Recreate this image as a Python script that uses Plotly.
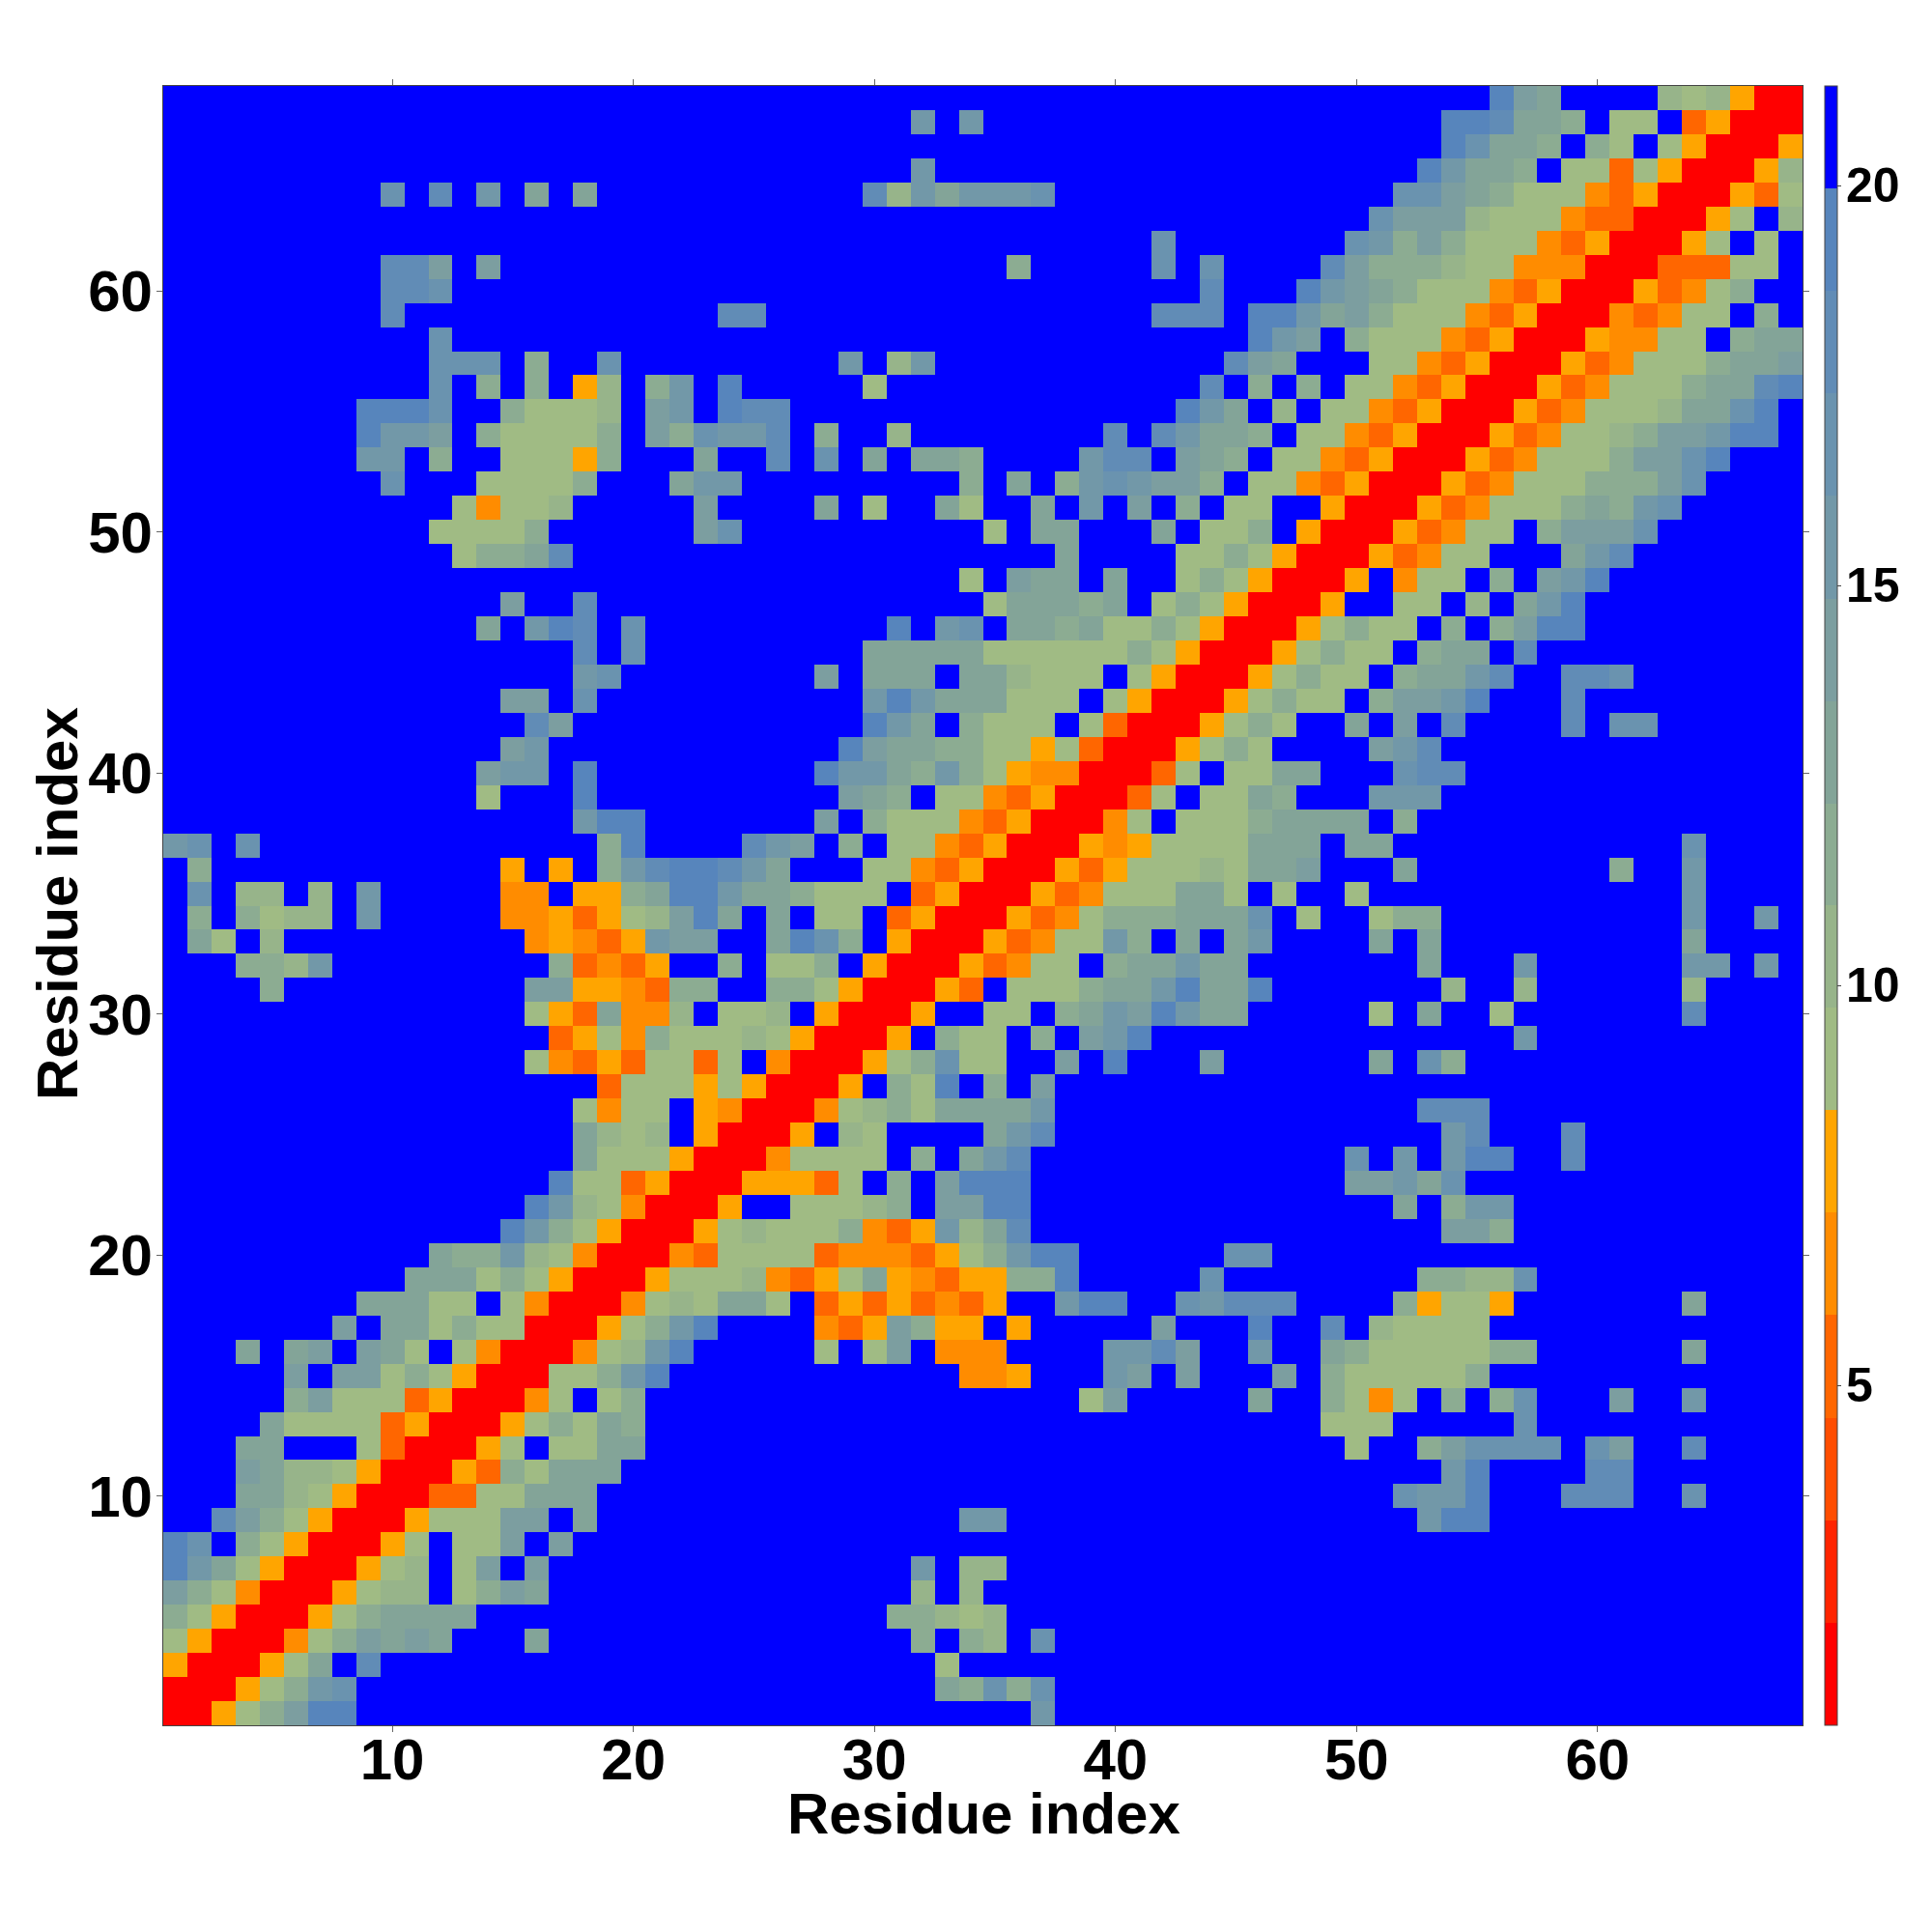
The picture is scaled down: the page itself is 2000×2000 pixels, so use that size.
import plotly.graph_objects as go

N_RESIDUES = 68
AXIS_TICKS = [10, 20, 30, 40, 50, 60]
BAR_TICKS = [5, 10, 15, 20]
AXIS_TITLE = "Residue index"

# Distance value read for each colour code in the picture
CODE_VALUE = {"1": 1.39, "4": 5.23, "5": 6.52, "6": 7.80, "7": 9.08, "8": 10.36, "9": 11.64,
              "A": 12.92, "B": 14.20, "C": 15.48, "D": 16.77, "E": 18.05, "F": 19.33, ".": 20.61}

# Colour band edges (values) and their colours
BAND_EDGES = [0.75, 2.03, 3.31, 4.59, 5.88, 7.16, 8.44, 9.72, 11.0, 12.28, 13.56, 14.84,
              16.13, 17.41, 18.69, 19.97, 21.25]
BAND_COLOURS = ["#ff0000", "#ff2400", "#ff4d00", "#ff6600", "#ff8c00", "#ffa500", "#a0bb84", "#97b48a",
                "#8cac92", "#83a498", "#7c9ea0", "#7298a8", "#6a93af", "#618cb6", "#5785bc", "#0000ff"]

# Upper triangle (x >= y): "start column:codes" runs for each residue row; everything else is blue
ROW_RUNS = {
    1: "1:11679BFF 37:C",
    2: "2:11679CD 33:A9D9D",
    3: "3:1167A.E 33:7",
    4: "4:11579BABA 16:A 32:9.98 37:D",
    5: "5:11679AAAA 31:99878",
    6: "6:116788.79BA 32:8.8",
    7: "7:11678.7B.B 32:C.88",
    8: "8:1167.77B.B",
    9: "9:116777BB.A 34:CC 53:CFF",
    10: "10:114477AAA 52:DCCF 59:EEE 64:D",
    11: "11:116497AAA 54:CF 60:EE",
    12: "12:1167.77AA 50:7 53:9BDDDD 60:DB 64:E",
    13: "13:116797A9 49:777 57:D",
    14: "14:1157.79 39:7B 46:A 49:9757.9.9D 61:B 64:C",
    15: "15:11779CF 34:556 40:CB.B 47:B.9777779",
    16: "16:11578CF 28:7.7B.555 40:CCEB 46:C 49:A97777799 64:A",
    17: "17:11679CF 28:546B966.6 42:B 46:F 49:E 51:87777",
    18: "18:115787AA7.46464546..CFF 43:DCEEE 52:96776 64:A",
    19: "19:11677785467A6546699F 44:D 53:9988D",
    20: "20:1154777745554679CFF 45:DD",
    21: "21:116787779546C8AE 54:BB9",
    22: "22:116..77789.BBFF 52:A.9CC",
    23: "23:1166647.9.BFFF 50:BBCAD",
    24: "24:1157777.9.ACE 50:D.C.CFF 59:E",
    25: "25:116.87....ACE 54:CE 59:E",
    26: "26:1157897AAAAC 53:EEE",
    27: "27:116.97F.9.B",
    28: "28:11679D77..B.F 44:B 51:A.D9",
    29: "29:116.977.9.BCF 57:C",
    30: "30:116..77.9ACBFCAA 51:7.A 56:7 64:E",
    31: "31:1164.7779AACFAAF 54:8 57:8 64:8",
    32: "32:1164577.9AACAA 53:A 57:C 64:CC 67:C",
    33: "33:1164577C9.A.AC 51:A.A 64:A",
    34: "34:116457999AAAD 48:7 51:799 64:C 67:C",
    35: "35:11645777AA7.7 50:7 64:C",
    36: "36:1164677787AAB 52:A 61:9 64:C",
    37: "37:116567777AAA.AA 64:D",
    38: "38:1157.7779AAAA.9",
    39: "39:1147.77A9...CCC",
    40: "40:1147.77AA...DEE",
    41: "41:116797....BCE",
    42: "42:116797..A.B.E 59:E 61:DD",
    43: "43:1167977.9BBCF 59:E",
    44: "44:1167977.9AACE 59:EED",
    45: "45:1167977.9AA.E",
    46: "46:1167977.9.9BFF",
    47: "47:116..77.8.ACF",
    48: "48:116.577.9.BCF",
    49: "49:1164577...ACE",
    50: "50:1164577.9BBBD",
    51: "51:116457779A9CD",
    52: "52:11645777999BD",
    53: "53:116457779BBDF",
    54: "54:116457789BBCFF",
    55: "55:116457778AADF",
    56: "56:116457779AAEF",
    57: "57:116457779AAB",
    58: "58:1165577.9AA",
    59: "59:1154577.9.",
    60: "60:1164579",
    61: "61:1144477",
    62: "62:1167.7",
    63: "63:1167.8",
    64: "64:11647",
    65: "65:1168",
    66: "66:116",
    67: "67:11",
    68: "68:1",
}

residues = list(range(1, N_RESIDUES + 1))
z = [[CODE_VALUE["."]] * N_RESIDUES for _ in residues]
for row, runs in ROW_RUNS.items():
    for run in runs.split():
        start, codes = run.split(":")
        for offset, code in enumerate(codes):
            col = int(start) + offset
            z[row - 1][col - 1] = CODE_VALUE[code]
            z[col - 1][row - 1] = CODE_VALUE[code]

zmin, zmax = BAND_EDGES[0], BAND_EDGES[-1]
colorscale = []
for i, colour in enumerate(BAND_COLOURS):
    colorscale.append([(BAND_EDGES[i] - zmin) / (zmax - zmin), colour])
    colorscale.append([(BAND_EDGES[i + 1] - zmin) / (zmax - zmin), colour])

FONT = "Liberation Sans"
# The page has an 8 px body margin, so figure coordinates are page coordinates minus 8.
BOTTOM = 222 / 2000
HEIGHT = 1697 / 2000
fig = go.Figure(go.Heatmap(
    x=residues, y=residues, z=z, zmin=zmin, zmax=zmax, colorscale=colorscale,
    colorbar=dict(
        x=1881 / 2000, xanchor="left", xref="paper", y=BOTTOM, yanchor="bottom", yref="paper",
        len=HEIGHT, lenmode="fraction", thickness=13, thicknessmode="pixels",
        xpad=0, ypad=0, outlinewidth=1, outlinecolor="#444444",
        tickmode="array", tickvals=BAR_TICKS, ticks="outside", ticklen=4, tickwidth=1,
        tickcolor="#444444", showticklabels=False,
    ),
))
axis = dict(
    range=[0.5, 68.5], tickmode="array", tickvals=AXIS_TICKS, ticks="outside", ticklen=6, tickwidth=1,
    tickcolor="#666666", showline=True, linecolor="#444444", linewidth=1, mirror="ticks",
    showgrid=False, zeroline=False, tickangle=0,
    tickfont=dict(family=FONT, size=60, color="black", weight="bold"),
)
annotations = [
    dict(text=f"<b>{AXIS_TITLE}</b>", xref="paper", yref="paper", x=1010 / 2000, y=(2000 - 1869) / 2000,
         xanchor="center", yanchor="middle", showarrow=False, font=dict(family=FONT, size=60, color="black")),
    dict(text=f"<b>{AXIS_TITLE}</b>", xref="paper", yref="paper", x=52 / 2000, y=(2000 - 928) / 2000,
         xanchor="center", yanchor="middle", textangle=-90, showarrow=False,
         font=dict(family=FONT, size=60, color="black")),
]
for tick in BAR_TICKS:
    annotations.append(dict(
        text=f"<b>{tick}</b>", xref="paper", yref="paper", x=1901 / 2000,
        y=BOTTOM + HEIGHT * (tick - zmin) / (zmax - zmin),
        xanchor="left", yanchor="middle", showarrow=False,
        font=dict(family=FONT, size=50, color="black"),
    ))
fig.update_layout(
    width=2000, height=2000, margin=dict(l=0, r=0, t=0, b=0), autosize=False,
    paper_bgcolor="white", plot_bgcolor="white",
    xaxis=dict(axis, domain=[161 / 2000, 1858 / 2000], ticklabelstandoff=-23),
    yaxis=dict(axis, domain=[222 / 2000, 1919 / 2000], ticklabelstandoff=-8),
    annotations=annotations,
)
fig.write_html("out.html")
